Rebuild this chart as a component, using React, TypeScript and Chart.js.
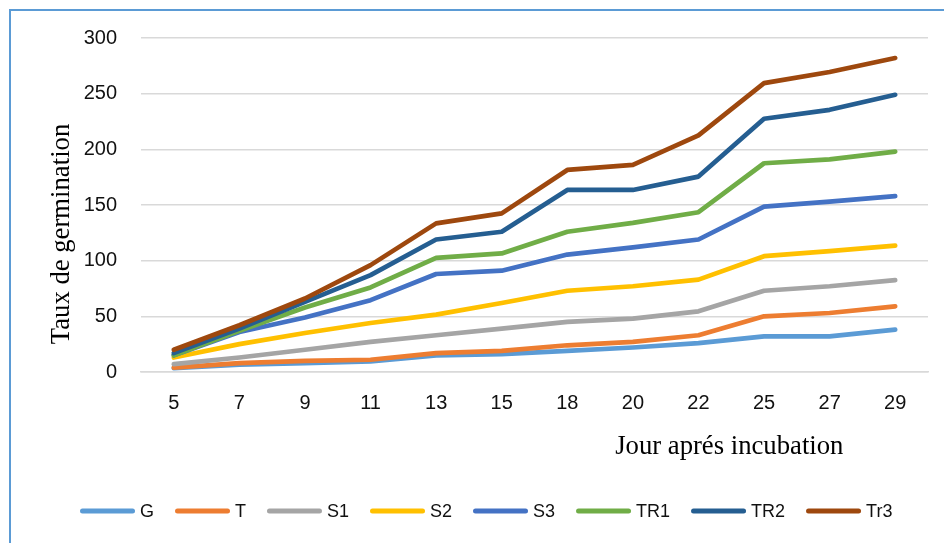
import React, { useEffect, useRef } from "react";
import { Chart, registerables } from "chart.js";

Chart.register(...registerables);

const days = ["5", "7", "9", "11", "13", "15", "18", "20", "22", "25", "27", "29"];
const G = [3.5, 6.5, 8, 9.5, 15, 16, 19, 22, 26, 32, 32, 38];
const T = [4, 8, 10, 11, 17, 19, 24, 27, 33, 50, 53, 59];
const S1 = [7, 13, 20, 27, 33, 39, 45, 48, 54.5, 73, 77, 82.5];
const S2 = [13, 25, 35, 44, 51.5, 62, 73, 77, 83, 104, 108.5, 113.5];
const S3 = [15, 36, 49, 64.5, 88, 91, 105.5, 112, 119, 148.5, 153, 158];
const TR1 = [15, 37, 58, 76, 102.5, 106.5, 126, 134, 143.5, 187.5, 191, 198];
const TR2 = [17, 39, 63, 87, 119, 126, 163.5, 163.5, 175.5, 227.5, 235.5, 249];
const Tr3 = [20, 42, 66, 96, 133.5, 142.5, 181.5, 186, 212.5, 259.5, 269.5, 282];

const seriesNames = ["G", "T", "S1", "S2", "S3", "TR1", "TR2", "Tr3"];
const seriesValues = [G, T, S1, S2, S3, TR1, TR2, Tr3];
const seriesColors = ["#5B9BD5", "#ED7D31", "#A5A5A5", "#FFC000", "#4472C4", "#70AD47", "#255E91", "#9E480E"];

const yTitle = "Taux de germination";
const xTitle = "Jour aprés incubation";

const overlay = {
  id: "overlay",
  afterDraw(chart: any) {
    const ctx = chart.ctx;
    const a = chart.chartArea;
    ctx.save();
    ctx.fillStyle = "#000";
    ctx.font = '26.7px "Liberation Serif"';
    ctx.textAlign = "center";
    ctx.textBaseline = "middle";
    ctx.fillText(xTitle, a.left + 0.7475 * (a.right - a.left), 447);
    ctx.save();
    ctx.translate(62, 234);
    ctx.rotate(-Math.PI / 2);
    ctx.fillText(yTitle, 0, 0);
    ctx.restore();

    // legend
    ctx.font = '18px "Liberation Sans"';
    ctx.textAlign = "left";
    let x = 80;
    const y = 511;
    chart.data.datasets.forEach((ds: any) => {
      ctx.strokeStyle = ds.borderColor;
      ctx.lineWidth = 5;
      ctx.lineCap = "round";
      ctx.beginPath();
      ctx.moveTo(x + 2.5, y);
      ctx.lineTo(x + 52.5, y);
      ctx.stroke();
      ctx.fillStyle = "#111";
      const tx = x + 60;
      ctx.fillText(ds.label, tx, y + 1);
      x = tx + ctx.measureText(ds.label).width + 21;
    });
    ctx.restore();
  },
};

export default function App() {
  const ref = useRef<HTMLCanvasElement>(null);
  useEffect(() => {
    if (!ref.current) return;
    const chart = new Chart(ref.current, {
      type: "line",
      data: {
        labels: days,
        datasets: seriesNames.map((n, i) => ({
          label: n,
          data: seriesValues[i],
          borderColor: seriesColors[i],
          backgroundColor: seriesColors[i],
          borderWidth: 4.7,
          pointRadius: 0,
          tension: 0,
          borderCapStyle: "round",
          borderJoinStyle: "round",
          order: 10 - i,
        })),
      },
      options: {
        animation: false,
        responsive: false,
        devicePixelRatio: 1,
        layout: { padding: { left: 0, top: 38, right: 16, bottom: 71 } },
        plugins: { legend: { display: false }, tooltip: { enabled: false } },
        scales: {
          x: {
            offset: true,
            grid: { display: false, drawTicks: false },
            border: { display: true, color: "#D9D9D9", width: 1.5 },
            ticks: { color: "#111", font: { family: "Liberation Sans", size: 20 }, padding: 19, maxRotation: 0 },
            afterFit: (s: any) => { s.height = 100; },
          },
          y: {
            min: 0,
            max: 300,
            ticks: { stepSize: 50, color: "#111", font: { family: "Liberation Sans", size: 20 }, padding: 24 },
            grid: { color: "#D9D9D9", lineWidth: 1.5, drawTicks: false },
            border: { display: false },
            afterFit: (s: any) => { s.width = 141; },
          },
        },
      },
      plugins: [overlay],
    } as any);
    return () => chart.destroy();
  }, []);
  return (
    <div style={{ position: "fixed", left: 0, top: 0, width: 944, height: 543, background: "#fff", overflow: "hidden" }}>
      <div style={{ position: "absolute", left: 9, top: 9, width: 1000, height: 600, border: "2px solid #5B9BD5", boxSizing: "border-box" }} />
      <canvas ref={ref} width={944} height={543} style={{ position: "absolute", left: 0, top: 0, display: "block" }} />
    </div>
  );
}
